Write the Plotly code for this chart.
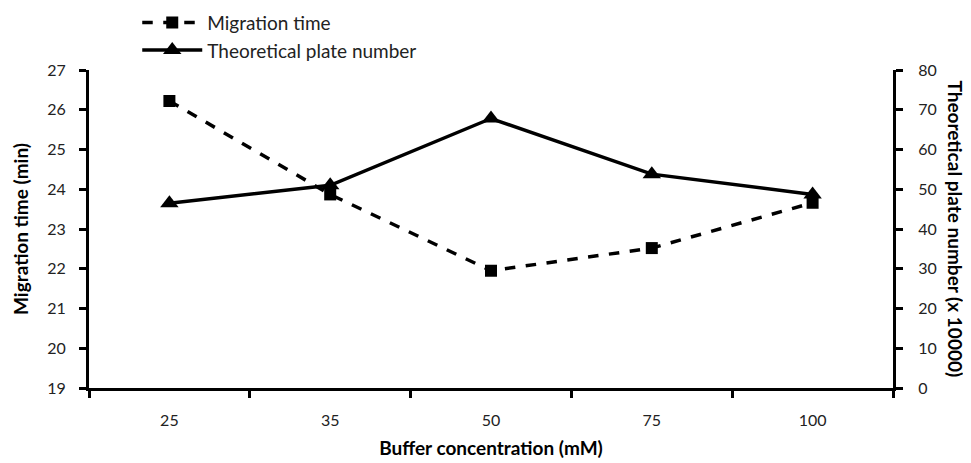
import plotly.graph_objects as go

concentrations = ["25", "35", "50", "75", "100"]
migration_time = [26.22, 23.87, 21.95, 22.52, 23.66]
plate_number = [46.5, 51.0, 67.8, 53.8, 48.7]

FONT = "Lato, 'Open Sans', sans-serif"

fig = go.Figure()
fig.add_trace(go.Scatter(
    x=concentrations, y=migration_time, name="Migration time",
    mode="lines+markers",
    line=dict(color="black", width=3.5, dash="dash"),
    marker=dict(symbol="square", size=12, color="black"),
    yaxis="y",
))
fig.add_trace(go.Scatter(
    x=concentrations, y=plate_number, name="Theoretical plate number",
    mode="lines+markers",
    line=dict(color="black", width=3.5),
    marker=dict(symbol="triangle-up", size=16, color="black"),
    yaxis="y2",
))

axis_common = dict(showgrid=False, zeroline=False, showline=True, linecolor="black",
                   linewidth=3, ticks="outside", tickcolor="black", tickwidth=3,
                   ticklen=7, automargin=False,
                   tickfont=dict(family=FONT, size=16, color="#222"))

fig.update_layout(
    width=971, height=463,
    margin=dict(l=81, r=86, t=62, b=83, autoexpand=False),
    paper_bgcolor="white", plot_bgcolor="white",
    font=dict(family=FONT, color="black"),
    showlegend=True,
    legend=dict(x=0.060, y=1.209, xanchor="left", yanchor="top",
                font=dict(family=FONT, size=19, color="#222"),
                bgcolor="rgba(0,0,0,0)", tracegroupgap=0, itemwidth=60),
    xaxis=dict(type="category", tickson="boundaries", range=[-0.5, len(concentrations) - 0.5],
               **axis_common,
               title=dict(text="<b>Buffer concentration (mM)</b>",
                          font=dict(family=FONT, size=19), standoff=14)),
    yaxis=dict(range=[19, 27], dtick=1, **axis_common,
               title=dict(text="<b>Migration time (min)</b>",
                          font=dict(family=FONT, size=19), standoff=14)),
    yaxis2=dict(range=[0, 80], dtick=10, overlaying="y", side="right", **axis_common),
)
fig.update_xaxes(ticklabelstandoff=16)
fig.update_yaxes(ticklabelstandoff=10)
fig.update_layout(yaxis2_ticklabelstandoff=12)

fig.add_annotation(
    text="<b>Theoretical plate number (x 10000)</b>", textangle=90,
    xref="paper", yref="paper", x=1.0, y=0.5, xshift=76, showarrow=False,
    font=dict(family=FONT, size=19, color="black"),
)

fig.write_html("out.html")
